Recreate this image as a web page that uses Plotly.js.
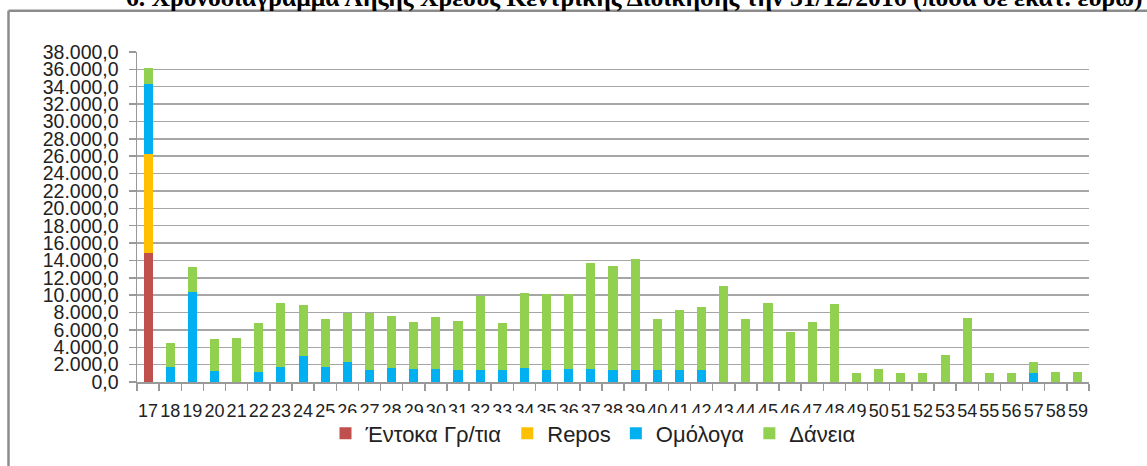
<!DOCTYPE html>
<html>
<head>
<meta charset="utf-8">
<script src="https://cdn.plot.ly/plotly-3.0.1.min.js"></script>
<style>
html,body{margin:0;padding:0;background:#fff;}
#chart{width:1147px;height:466px;}
</style>
</head>
<body>
<div id="chart"></div>
<script>
const years = ['17','18','19','20','21','22','23','24','25','26','27','28','29','30','31','32','33','34','35','36','37','38','39','40','41','42','43','44','45','46','47','48','49','50','51','52','53','54','55','56','57','58','59'];
const entoka = [14800,0,0,0,0,0,0,0,0,0,0,0,0,0,0,0,0,0,0,0,0,0,0,0,0,0,0,0,0,0,0,0,0,0,0,0,0,0,0,0,0,0,0];
const repos  = [11400,0,0,0,0,0,0,0,0,0,0,0,0,0,0,0,0,0,0,0,0,0,0,0,0,0,0,0,0,0,0,0,0,0,0,0,0,0,0,0,0,0,0];
const omologa = [8100,1700,10400,1300,0,1150,1700,3000,1700,2300,1400,1600,1500,1500,1350,1350,1350,1600,1350,1500,1500,1350,1350,1350,1350,1350,0,0,0,0,0,0,0,0,0,0,0,0,0,0,1050,0,0];
const daneia = [1900,2800,2900,3700,5100,5700,7400,5900,5550,5600,6500,6000,5400,6000,5700,8500,5400,8650,8750,8600,12150,12000,12850,5850,6900,7300,11000,7200,9100,5750,6900,8950,1050,1500,1050,1050,3100,7350,1050,1050,1200,1200,1200];
const seriesNames = ['Έντοκα Γρ/τια','Repos','Ομόλογα','Δάνεια'];
const titleText = '6. Χρονοδιάγραμμα Λήξης Χρέους Κεντρικής Διοίκησης την 31/12/2016 (ποσά σε εκατ. ευρώ)';

const colors = ['#C0504D','#FFC000','#00B0F0','#92D050'];
const vals = [entoka, repos, omologa, daneia];
const traces = vals.map((v,i)=>({
  type:'bar', x: years, y: v, name: seriesNames[i],
  marker:{color: colors[i], line:{width:0}},
  hoverinfo:'x+y+name'
}));

const L = 137, R = 1089, T = 52, B = 385;
const W = R-L, H = B-T;
const px = x => (x-L)/W;
const py = y => (B-y)/H;
const font = 'Liberation Sans, Arial, sans-serif';

const layout = {
  width:1147, height:466,
  margin:{l:L, r:1147-R, t:T, b:466-B, pad:0},
  paper_bgcolor:'#fff', plot_bgcolor:'#fff',
  barmode:'stack', bargap:0.59,
  separators:',.',
  showlegend:true,
  legend:{orientation:'h', x:px(593), y:py(437), xanchor:'center', yanchor:'middle',
    font:{family:font, size:22, color:'#222'}, traceorder:'normal', itemwidth:30},
  xaxis:{type:'category', tickson:'boundaries', ticks:'outside', ticklen:7, tickcolor:'#999',
    tickwidth:1.5, showline:true, linecolor:'#999', linewidth:1.5, showgrid:false, tickangle:0,
    ticklabelstandoff:12,
    tickfont:{family:font, size:18, color:'#222'}, fixedrange:true},
  yaxis:{range:[0,38000], dtick:2000, tickformat:',.1f', ticks:'outside', ticklen:7, tickcolor:'#999',
    tickwidth:1.5, showline:true, linecolor:'#999', linewidth:1.5, showgrid:true, gridcolor:'#a6a6a6',
    gridwidth:1.5, zeroline:false, ticklabelstandoff:6,
    tickfont:{family:font, size:19.5, color:'#222'}, fixedrange:true},
  annotations:[{xref:'paper', yref:'paper', x:px(124), y:py(-2.5), xanchor:'left', yanchor:'middle',
    text:'<b>'+titleText+'</b>', showarrow:false,
    font:{family:'Liberation Serif, Times New Roman, serif', size:25.6, color:'#000'}}],
  shapes:[
    {type:'line', xref:'paper', yref:'paper', x0:px(8.5), x1:px(1150), y0:py(10.5), y1:py(10.5), line:{color:'#8c8c8c', width:2.5}},
    {type:'line', xref:'paper', yref:'paper', x0:px(8.5), x1:px(8.5), y0:py(10.5), y1:py(470), line:{color:'#8c8c8c', width:2.5}}
  ]
};
Plotly.newPlot('chart', traces, layout, {displayModeBar:false, staticPlot:true});
</script>
</body>
</html>
